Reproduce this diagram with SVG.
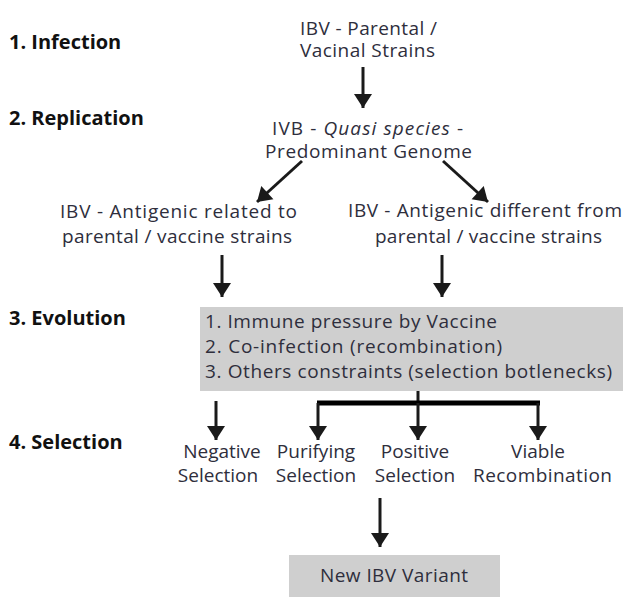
<svg xmlns="http://www.w3.org/2000/svg" width="625" height="609" viewBox="0 0 625 609">
  <style>
    .stage { font-family: "Open Sans", "Liberation Sans", sans-serif; font-weight: bold; font-size: 20px; fill: #111; }
    .t { font-family: "Open Sans", "Liberation Sans", sans-serif; font-size: 19px; fill: #2e2e3c; text-anchor: middle; }
    .tl { font-family: "Open Sans", "Liberation Sans", sans-serif; font-size: 19px; fill: #2e2e3c; }
    .it { font-style: italic; }
    .box { fill: #cfcfcf; }
    .edge { stroke: #1a1a1a; stroke-width: 3; fill: none; }
    .bar { stroke: #000; stroke-width: 5; fill: none; }
  </style>
  <defs>
    <marker id="head" markerUnits="userSpaceOnUse" markerWidth="20" markerHeight="20" viewBox="0 0 20 20" refX="16" refY="10" orient="auto">
      <path d="M2,1 L16,10 L2,19 Z" fill="#1a1a1a"/>
    </marker>
  </defs>

  <rect width="625" height="609" fill="#fff"/>

  <!-- stage labels -->
  <g id="stages">
    <text class="stage" x="9" y="49">1. Infection</text>
    <text class="stage" x="9" y="125">2. Replication</text>
    <text class="stage" x="9" y="325">3. Evolution</text>
    <text class="stage" x="9" y="449">4. Selection</text>
  </g>

  <!-- two-line labels are single text elements with one tspan per line -->
  <g id="parental">
    <text class="t"><tspan x="368.5" y="35" textLength="137">IBV - Parental /</tspan><tspan x="367.5" y="57" textLength="135">Vacinal Strains</tspan></text>
  </g>

  <g id="quasispecies">
    <text class="t"><tspan x="367.5" y="135" textLength="191">IVB - <tspan class="it">Quasi species</tspan> -</tspan><tspan x="368.5" y="158" textLength="207">Predominant Genome</tspan></text>
  </g>

  <g id="related">
    <text class="t"><tspan x="178.5" y="218" textLength="237">IBV - Antigenic related to</tspan><tspan x="177" y="243" textLength="230">parental / vaccine strains</tspan></text>
  </g>

  <g id="different">
    <text class="t"><tspan x="485" y="217" textLength="274">IBV - Antigenic different from</tspan><tspan x="488.5" y="243" textLength="227">parental / vaccine strains</tspan></text>
  </g>

  <g id="evolution">
    <rect class="box" x="200" y="307" width="423" height="84"/>
    <text class="tl"><tspan x="205" y="328" textLength="292">1. Immune pressure by Vaccine</tspan><tspan x="205" y="353" textLength="297">2. Co-infection (recombination)</tspan><tspan x="205" y="378" textLength="407">3. Others constraints (selection botlenecks)</tspan></text>
  </g>

  <g id="negative">
    <text class="t"><tspan x="222" y="458">Negative</tspan><tspan x="218" y="482">Selection</tspan></text>
  </g>
  <g id="purifying">
    <text class="t"><tspan x="316" y="458">Purifying</tspan><tspan x="316" y="482">Selection</tspan></text>
  </g>
  <g id="positive">
    <text class="t"><tspan x="415" y="458">Positive</tspan><tspan x="415" y="482">Selection</tspan></text>
  </g>
  <g id="viable">
    <text class="t"><tspan x="538" y="458">Viable</tspan><tspan x="542.5" y="482" textLength="139">Recombination</tspan></text>
  </g>

  <g id="variant">
    <rect class="box" x="289" y="555" width="211" height="42"/>
    <text class="t" x="394" y="582" textLength="148">New IBV Variant</text>
  </g>

  <g id="connectors">
    <line class="edge" x1="363" y1="67" x2="363" y2="108" marker-end="url(#head)"/>
    <line class="edge" x1="302" y1="161" x2="257" y2="202" marker-end="url(#head)"/>
    <line class="edge" x1="443" y1="161" x2="488" y2="202" marker-end="url(#head)"/>
    <line class="edge" x1="222" y1="255" x2="222" y2="297" marker-end="url(#head)"/>
    <line class="edge" x1="442" y1="255" x2="442" y2="297" marker-end="url(#head)"/>
    <line class="edge" x1="216" y1="401" x2="216" y2="440" marker-end="url(#head)"/>
    <line class="edge" x1="418" y1="391" x2="418" y2="405"/>
    <line class="bar" x1="317" y1="403" x2="540" y2="403"/>
    <line class="edge" x1="318" y1="403" x2="318" y2="440" marker-end="url(#head)"/>
    <line class="edge" x1="418" y1="403" x2="418" y2="440" marker-end="url(#head)"/>
    <line class="edge" x1="538" y1="403" x2="538" y2="440" marker-end="url(#head)"/>
    <line class="edge" x1="380" y1="498" x2="380" y2="547" marker-end="url(#head)"/>
  </g>
</svg>
